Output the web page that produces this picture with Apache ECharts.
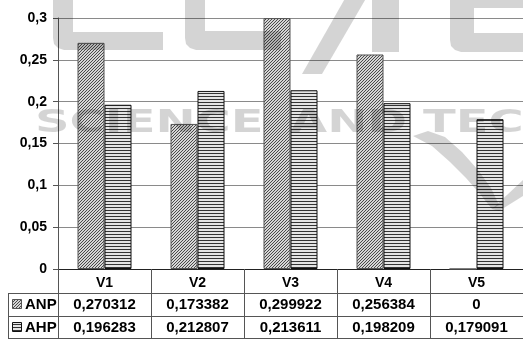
<!DOCTYPE html>
<html><head><meta charset="utf-8">
<script src="https://cdn.jsdelivr.net/npm/echarts@6/dist/echarts.min.js"></script>
<style>html,body{margin:0;padding:0;background:#fff}#c{width:523px;height:340px}</style>
</head><body><div id="c"></div>
<script>
const categories = ['V1', 'V2', 'V3', 'V4', 'V5'];
const seriesNames = ['ANP', 'AHP'];
const anpValues = [0.270312, 0.173382, 0.299922, 0.256384, 0];
const ahpValues = [0.196283, 0.212807, 0.213611, 0.198209, 0.179091];
const yTicks = [0, 0.05, 0.1, 0.15, 0.2, 0.25, 0.3];

function fmt(v) { return String(v).replace('.', ','); }

function makePattern(kind) {
  const c = document.createElement('canvas'); c.width = 3; c.height = 3;
  const g = c.getContext('2d');
  g.fillStyle = kind === 'diag' ? '#d6d6d6' : '#e4e4e4'; g.fillRect(0, 0, 3, 3);
  g.fillStyle = kind === 'diag' ? '#4a4a4a' : '#333333';
  for (let y = 0; y < 3; y++) for (let x = 0; x < 3; x++) {
    if (kind === 'diag' ? ((x + y) % 3 === 2) : (y === 0)) g.fillRect(x, y, 1, 1);
  }
  return c;
}
const diagPat = { image: makePattern('diag'), repeat: 'repeat' };
const horPat = { image: makePattern('hor'), repeat: 'repeat' };
const patterns = [diagPat, horPat];
const borders = ['#555', '#111'];

const chart = echarts.init(document.getElementById('c'), null, { renderer: 'canvas' });
const F = 'Liberation Sans, Arial, sans-serif';
const lineCol = '#555';
const wm = 'rgba(0,0,0,0.17)';

const graphics = [];
[293, 316, 338].forEach(y => graphics.push({ type: 'line', silent: true, shape: { x1: 8, y1: y + 0.5, x2: 58, y2: y + 0.5 }, style: { stroke: lineCol, lineWidth: 1 } }));
graphics.push({ type: 'line', silent: true, shape: { x1: 8.5, y1: 293, x2: 8.5, y2: 339 }, style: { stroke: lineCol, lineWidth: 1 } });
seriesNames.forEach((n, i) => {
  const cy = 305 + i * 23;
  graphics.push({ type: 'rect', silent: true, shape: { x: 12.5, y: cy - 5.5, width: 9, height: 9 }, style: { fill: patterns[i], stroke: borders[i], lineWidth: 1 } });
  graphics.push({ type: 'text', silent: true, x: 25, y: cy, style: { text: n, font: 'bold 15px ' + F, fill: '#000', textVerticalAlign: 'middle' } });
});
// watermark (decoration)
const wmPolys = [
  [[53,-5],[73,-5],[73,32],[163,32],[163,50],[64,50],[58,48],[54,44],[53,38]],
  [[185,-5],[205,-5],[205,31],[281,31],[281,50],[196,50],[190,48],[186,44],[185,38]],
  [[347,-5],[368,-5],[322,74],[302,74]],
  [[372,-5],[399,-5],[399,52],[372,52]],
  [[450,-5],[523,-5],[523,8],[474,8],[474,33],[523,33],[523,52],[461,52],[455,50],[451,46],[450,40]],
  [[413,136],[428,131],[445,137],[462,152],[478,170],[491,188],[499,205],[492,209],[480,194],[466,178],[450,162],[432,146]],
  [[492,209],[523,180],[523,196],[499,211]]
];
wmPolys.forEach(p => graphics.push({ type: 'polygon', silent: true, z: 100, shape: { points: p }, style: { fill: wm } }));
[['SCIENCE', 35], ['AND', 290], ['TECHNOLOGY', 423]].forEach(([t, x]) => graphics.push({
  type: 'text', silent: true, z: 100, x: x, y: 124, scaleX: 1.5,
  style: { text: t, font: 'bold 32px DejaVu Sans', fill: wm, textVerticalAlign: 'middle' }
}));

const baseAxis = {
  type: 'category', gridIndex: 0, position: 'bottom', boundaryGap: true,
  axisLine: { show: true, lineStyle: { color: lineCol, width: 1 } },
  axisTick: { show: false }, splitLine: { show: false }
};

chart.setOption({
  animation: false,
  backgroundColor: '#fff',
  grid: { left: 58, top: 18, width: 467.5, height: 251, containLabel: false },
  xAxis: [
    Object.assign({}, baseAxis, {
      data: categories,
      axisLine: { show: true, lineStyle: { color: '#222', width: 1 } },
      axisTick: { show: true, length: 70, interval: 0, alignWithLabel: false, lineStyle: { color: lineCol } },
      axisLabel: { interval: 0, margin: 7, color: '#000', fontFamily: F, fontWeight: 'bold', fontSize: 14, lineHeight: 14 }
    }),
    Object.assign({}, baseAxis, {
      data: anpValues.map(fmt), offset: 24,
      axisLabel: { interval: 0, margin: 4, color: '#000', fontFamily: F, fontWeight: 'bold', fontSize: 15, lineHeight: 15 }
    }),
    Object.assign({}, baseAxis, {
      data: ahpValues.map(fmt), offset: 47,
      axisLabel: { interval: 0, margin: 4, color: '#000', fontFamily: F, fontWeight: 'bold', fontSize: 15, lineHeight: 15 }
    }),
    Object.assign({}, baseAxis, { data: categories, offset: 69, axisLabel: { show: false } })
  ],
  yAxis: {
    type: 'value', min: yTicks[0], max: yTicks[yTicks.length - 1], interval: yTicks[1] - yTicks[0],
    axisLine: { show: true, lineStyle: { color: lineCol } },
    axisTick: { show: true, length: 5, lineStyle: { color: lineCol } },
    splitLine: { show: true, lineStyle: { color: '#8a8a8a', width: 1 } },
    axisLabel: { margin: 11, color: '#000', fontFamily: F, fontWeight: 'bold', fontSize: 14, formatter: v => fmt(+v.toFixed(2)) }
  },
  series: [
    { name: seriesNames[0], type: 'bar', data: anpValues, barWidth: 27, barGap: '0%', itemStyle: { color: diagPat, borderColor: borders[0], borderWidth: 1 } },
    { name: seriesNames[1], type: 'bar', data: ahpValues, barWidth: 27, barGap: '0%', itemStyle: { color: horPat, borderColor: borders[1], borderWidth: 1 } }
  ],
  graphic: { elements: graphics }
});
</script></body></html>
